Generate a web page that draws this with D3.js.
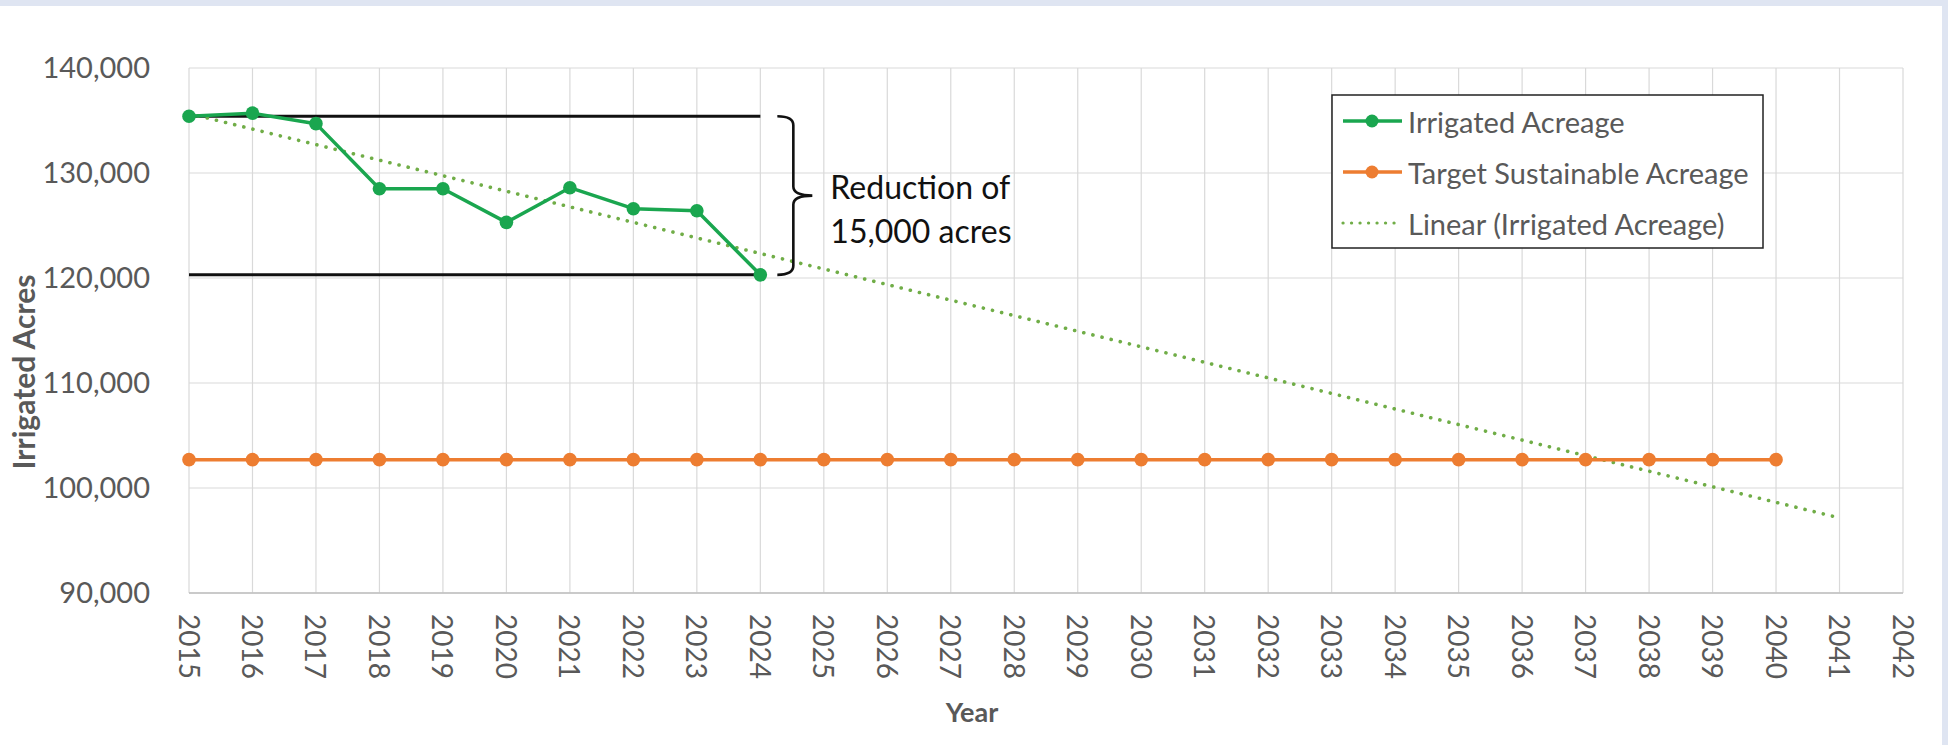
<!DOCTYPE html>
<html>
<head>
<meta charset="utf-8">
<script src="https://cdn.jsdelivr.net/npm/d3@7"></script>
<style>
  html, body { margin: 0; padding: 0; background: #dfe5f2; }
  svg { display: block; }
  text { font-family: Lato, "Open Sans", sans-serif; }
</style>
</head>
<body>
<svg id="chart" width="1948" height="745"></svg>
<script>
// ---- data ----
const yearTicks = [2015, 2016, 2017, 2018, 2019, 2020, 2021, 2022, 2023, 2024, 2025, 2026, 2027, 2028,
                   2029, 2030, 2031, 2032, 2033, 2034, 2035, 2036, 2037, 2038, 2039, 2040, 2041, 2042];
const acreTicks = [90000, 100000, 110000, 120000, 130000, 140000];

const irrigatedYears = [2015, 2016, 2017, 2018, 2019, 2020, 2021, 2022, 2023, 2024];
const irrigatedAcres = [135400, 135700, 134700, 128500, 128500, 125300, 128600, 126600, 126400, 120300];

const targetYears = [2015, 2016, 2017, 2018, 2019, 2020, 2021, 2022, 2023, 2024, 2025, 2026, 2027,
                     2028, 2029, 2030, 2031, 2032, 2033, 2034, 2035, 2036, 2037, 2038, 2039, 2040];
const targetAcres = [102700, 102700, 102700, 102700, 102700, 102700, 102700, 102700, 102700, 102700,
                     102700, 102700, 102700, 102700, 102700, 102700, 102700, 102700, 102700, 102700,
                     102700, 102700, 102700, 102700, 102700, 102700];

const trendSpan = [2015, 2041];
const reductionLines = ["Reduction of", "15,000 acres"];
const legendLabels = ["Irrigated Acreage", "Target Sustainable Acreage", "Linear (Irrigated Acreage)"];

// ---- colours ----
const GREEN = "#1aa64f";
const ORANGE = "#ed7d31";
const TREND = "#70ad47";
const GRID = "#d9d9d9";
const TEXT = "#595959";

const svg = d3.select("#chart");

// white chart area inside the pale frame
svg.append("rect").attr("x", 0).attr("y", 6).attr("width", 1942).attr("height", 739).attr("fill", "#ffffff");

const x = d3.scaleLinear().domain([2015, 2042]).range([189, 1903]);
const y = d3.scaleLinear().domain([90000, 140000]).range([593, 68]);

// gridlines
svg.append("g").selectAll("line").data(acreTicks).join("line")
  .attr("x1", x(2015)).attr("x2", x(2042))
  .attr("y1", d => y(d)).attr("y2", d => y(d))
  .attr("stroke", GRID).attr("stroke-width", 1.2);
svg.append("g").selectAll("line").data(yearTicks).join("line")
  .attr("x1", d => x(d)).attr("x2", d => x(d))
  .attr("y1", y(140000)).attr("y2", y(90000))
  .attr("stroke", GRID).attr("stroke-width", 1.2);
// bottom axis line
svg.append("line").attr("x1", x(2015)).attr("x2", x(2042))
  .attr("y1", y(90000)).attr("y2", y(90000))
  .attr("stroke", "#bfbfbf").attr("stroke-width", 1.5);

// y axis
const yAxis = svg.append("g").attr("transform", `translate(${x(2015)},0)`)
  .call(d3.axisLeft(y).tickValues(acreTicks).tickFormat(d3.format(",")).tickSize(0).tickPadding(39));
yAxis.select(".domain").remove();
yAxis.selectAll("text").attr("font-size", 29).attr("fill", TEXT)
  .attr("font-family", "Lato, sans-serif");

// x axis with labels turned to read downwards
const xAxis = svg.append("g").attr("transform", `translate(0,${y(90000)})`)
  .call(d3.axisBottom(x).tickValues(yearTicks).tickFormat(d3.format("d")).tickSize(0));
xAxis.select(".domain").remove();
xAxis.selectAll("text")
  .attr("font-size", 28).attr("fill", TEXT).attr("font-family", "Lato, sans-serif")
  .attr("text-anchor", "start")
  .attr("dy", null)
  .attr("y", 0)
  .attr("transform", "translate(0,21) rotate(90)")
  .attr("dominant-baseline", "central");

// axis titles
svg.append("text").text("Irrigated Acres")
  .attr("transform", "translate(23,372) rotate(-90)")
  .attr("text-anchor", "middle").attr("dominant-baseline", "central")
  .attr("font-size", 30).attr("font-weight", 700).attr("fill", TEXT);
svg.append("text").text("Year")
  .attr("x", 972).attr("y", 722)
  .attr("text-anchor", "middle")
  .attr("font-size", 27).attr("font-weight", 700).attr("fill", TEXT);

// reduction bracket lines
const first = irrigatedAcres[0];
const last = irrigatedAcres[irrigatedAcres.length - 1];
const lastYear = irrigatedYears[irrigatedYears.length - 1];
svg.append("g").selectAll("line").data([first, last]).join("line")
  .attr("x1", x(2015)).attr("x2", x(lastYear))
  .attr("y1", d => y(d)).attr("y2", d => y(d))
  .attr("stroke", "#111").attr("stroke-width", 3);

// trend line (least squares over the irrigated series)
const mx = d3.mean(irrigatedYears), my = d3.mean(irrigatedAcres);
const sxy = d3.sum(irrigatedYears, (t, i) => (t - mx) * (irrigatedAcres[i] - my));
const sxx = d3.sum(irrigatedYears, t => (t - mx) * (t - mx));
const slope = sxy / sxx, intercept = my - slope * mx;
svg.append("line")
  .attr("x1", x(trendSpan[0])).attr("y1", y(intercept + slope * trendSpan[0]))
  .attr("x2", x(trendSpan[1])).attr("y2", y(intercept + slope * trendSpan[1]))
  .attr("stroke", TREND).attr("stroke-width", 3.6)
  .attr("stroke-dasharray", "0.1 9.3").attr("stroke-linecap", "round");

// series
const line = d3.line().x(d => x(d[0])).y(d => y(d[1]));
function drawSeries(years, values, color) {
  const pts = years.map((t, i) => [t, values[i]]);
  svg.append("path").datum(pts).attr("d", line)
    .attr("fill", "none").attr("stroke", color).attr("stroke-width", 3.5)
    .attr("stroke-linejoin", "round");
  svg.append("g").selectAll("circle").data(pts).join("circle")
    .attr("cx", d => x(d[0])).attr("cy", d => y(d[1])).attr("r", 6.8)
    .attr("fill", color);
}
drawSeries(targetYears, targetAcres, ORANGE);
drawSeries(irrigatedYears, irrigatedAcres, GREEN);

// curly brace spanning the reduction
const bx = x(lastYear);
const yt = y(first), yb = y(last), ym = (yt + yb) / 2;
const b0 = bx + 17, b1 = bx + 33, b2 = bx + 52, r = 9;
svg.append("path")
  .attr("d", `M${b0},${yt} Q${b1},${yt} ${b1},${yt + r} L${b1},${ym - r} Q${b1},${ym} ${b2},${ym}
              Q${b1},${ym} ${b1},${ym + r} L${b1},${yb - r} Q${b1},${yb} ${b0},${yb}`)
  .attr("fill", "none").attr("stroke", "#111").attr("stroke-width", 2.6);

svg.append("g").selectAll("text").data(reductionLines).join("text")
  .attr("x", bx + 70).attr("y", (d, i) => 199 + i * 44)
  .attr("font-size", 32).attr("fill", "#111")
  .text(d => d);

// legend
const lg = svg.append("g");
lg.append("rect").attr("x", 1332).attr("y", 95).attr("width", 431).attr("height", 153)
  .attr("fill", "#fff").attr("stroke", "#222").attr("stroke-width", 1.5);
const legendRows = [
  { label: legendLabels[0], color: GREEN, kind: "marker" },
  { label: legendLabels[1], color: ORANGE, kind: "marker" },
  { label: legendLabels[2], color: TREND, kind: "dots" }
];
legendRows.forEach((row, i) => {
  const ly = 121 + i * 51;
  const ln = lg.append("line").attr("x1", 1343).attr("x2", 1402).attr("y1", ly).attr("y2", ly)
    .attr("stroke", row.color);
  if (row.kind === "marker") {
    ln.attr("stroke-width", 3.5);
    lg.append("circle").attr("cx", 1372).attr("cy", ly).attr("r", 6.5).attr("fill", row.color);
  } else {
    ln.attr("stroke-width", 3.2).attr("stroke-dasharray", "0.1 8.4").attr("stroke-linecap", "round");
  }
  lg.append("text").attr("x", 1408).attr("y", ly).attr("dominant-baseline", "central")
    .attr("font-size", 29).attr("fill", TEXT).text(row.label);
});
</script>
</body>
</html>
